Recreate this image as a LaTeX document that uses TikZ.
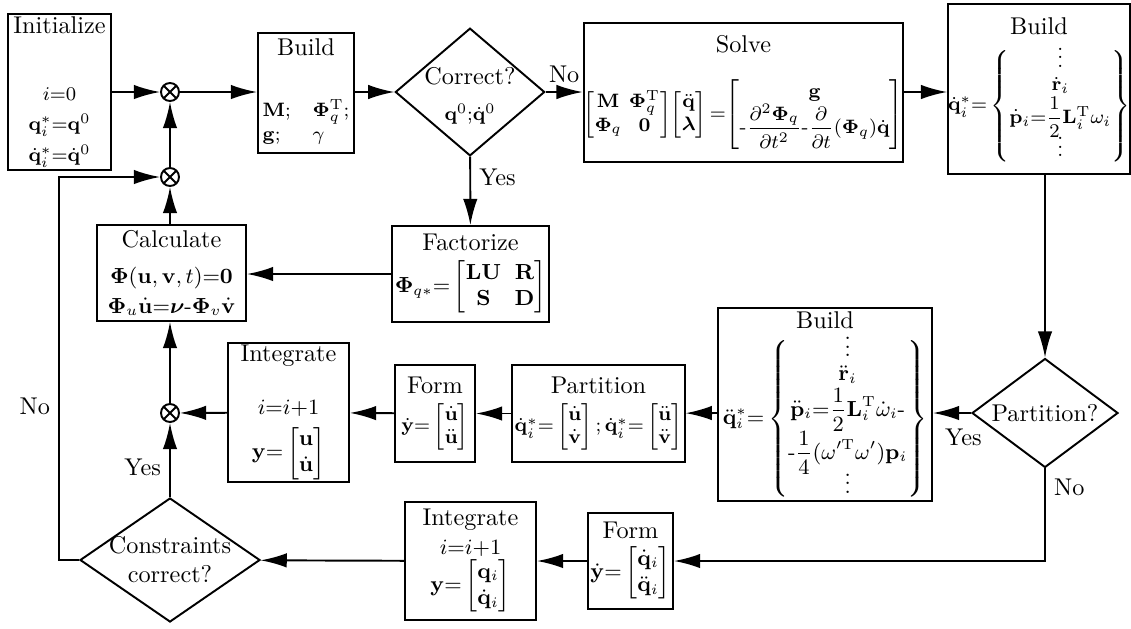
\documentclass[tikz,border=0pt]{standalone}
\usepackage{amsmath}
\usepackage{amssymb}
\usepackage{bm}
\usetikzlibrary{shapes.geometric, arrows.meta, positioning}

\newcommand{\pxu}{0.0145cm}
\newcommand{\tightvdots}{\vbox{\baselineskip3.5pt\lineskiplimit0pt\hbox{.}\hbox{.}\hbox{.}}}
\setlength{\arraycolsep}{1.5pt}

\begin{document}
\begin{tikzpicture}[x=0.0145cm, y=-0.0145cm, thick,
    block/.style={rectangle, draw, align=center, inner sep=1pt},
    decision/.style={diamond, draw, align=center, inner sep=0pt},
    sum/.style={circle, draw, inner sep=0pt, minimum size=18*\pxu,
      path picture={\draw (path picture bounding box.north west) -- (path picture bounding box.south east)
        (path picture bounding box.south west) -- (path picture bounding box.north east);}},
    arrow/.style={-{Latex[length=3.8mm,width=2.1mm]}}]

  \useasboundingbox (0,0) rectangle (1131,628);

  % top row
  \node[block, minimum width=103*\pxu, minimum height=140*\pxu] (init) at (59.5,92)
    {Initialize\\[16pt] {\footnotesize $i{=}0$}\\ {\footnotesize $\mathbf{q}_i^*{=}\mathbf{q}^0$}\\[1pt]
     {\footnotesize $\dot{\mathbf{q}}_i^*{=}\dot{\mathbf{q}}^0$}};
  \node[sum] (sum1) at (170,92) {};
  \node[block, minimum width=96*\pxu, minimum height=120*\pxu] (build1) at (306,93)
    {Build\\[18pt] {\footnotesize $\begin{array}{@{}l@{\hspace{9pt}}l@{}}\mathbf{M}; & \bm{\Phi}_q^{\mathrm{T}};\\
      \mathbf{g}; & \gamma\end{array}$}};
  \node[decision, aspect=1.17, inner ysep=-3pt, minimum width=148*\pxu, minimum height=127*\pxu] (correct) at (470,92)
    {\\[-2pt] Correct?\\[3pt] {\footnotesize $\mathbf{q}^0{;}\dot{\mathbf{q}}^0$}};
  \node[block, inner sep=0pt, minimum width=315*\pxu, minimum height=139*\pxu] (solve) at (743.5,92.5)
    {Solve\\[10pt] {\footnotesize $\begin{bmatrix}\mathbf{M} & \bm{\Phi}_q^{\mathrm{T}}\\ \bm{\Phi}_q & \mathbf{0}\end{bmatrix}\!
      \begin{bmatrix}\ddot{\mathbf{q}}\\ \bm{\lambda}\end{bmatrix}{=}\!
      \begin{bmatrix}\mathbf{g}\\ \text{-}\dfrac{\partial^2\bm{\Phi}_q}{\partial t^2}\text{-}\dfrac{\partial}{\partial t}(\bm{\Phi}_q)\dot{\mathbf{q}}\end{bmatrix}$}};
  \node[block, inner sep=0pt, minimum width=180*\pxu, minimum height=170*\pxu] (build2) at (1039,89)
    {\begin{tabular}{@{}c@{}}Build\\[2pt] {\fontsize{8.5}{10}\selectfont\renewcommand{\arraystretch}{0.95}\setlength{\arraycolsep}{0pt}$\dot{\mathbf{q}}_i^*{=}\left\{\begin{matrix}\tightvdots\\
      \dot{\mathbf{r}}_i\\ \dot{\mathbf{p}}_i{=}\dfrac{1}{2}\mathbf{L}_i^{\mathrm{T}}\omega_i\\ \tightvdots\end{matrix}\right\}$}\end{tabular}};

  % middle rows
  \node[sum] (sum2) at (170,177) {};
  \node[block, minimum width=149*\pxu, minimum height=96*\pxu] (calc) at (171.5,273)
    {Calculate\\[3pt] {\small $\bm{\Phi}(\mathbf{u},\mathbf{v},t){=}\mathbf{0}$}\\
     {\small $\bm{\Phi}_u\dot{\mathbf{u}}{=}\bm{\nu}\text{-}\bm{\Phi}_v\dot{\mathbf{v}}$}};
  \node[block, minimum width=145*\pxu, minimum height=96*\pxu] (factor) at (470.5,274)
    {Factorize\\[3pt] {\small $\bm{\Phi}_{q*}{=}\begin{bmatrix}\mathbf{LU} & \;\mathbf{R}\\ \mathbf{S} & \;\mathbf{D}\end{bmatrix}$}};

  \node[sum] (sum3) at (170,413) {};
  \node[block, minimum width=121*\pxu, minimum height=129*\pxu] (integ1) at (288.5,412.5)
    {Integrate\\[10pt] {\small $i{=}i{+}1$}\\[3pt] {\small $\mathbf{y}{=}\begin{bmatrix}\mathbf{u}\\ \dot{\mathbf{u}}\end{bmatrix}$}};
  \node[block, minimum width=80*\pxu, minimum height=97*\pxu] (form1) at (435,413.5)
    {Form\\[4pt] {\footnotesize $\dot{\mathbf{y}}{=}\begin{bmatrix}\dot{\mathbf{u}}\\ \ddot{\mathbf{u}}\end{bmatrix}$}};
  \node[block, minimum width=165*\pxu, minimum height=97*\pxu] (partition) at (598.5,413.5)
    {Partition\\[4pt] {\footnotesize $\dot{\mathbf{q}}_i^*{=}\begin{bmatrix}\dot{\mathbf{u}}\\ \dot{\mathbf{v}}\end{bmatrix}{;}\,
      \dot{\mathbf{q}}_i^*{=}\begin{bmatrix}\ddot{\mathbf{u}}\\ \ddot{\mathbf{v}}\end{bmatrix}$}};
  \node[block, inner sep=0pt, minimum width=214*\pxu, minimum height=191*\pxu] (build3) at (825,404.5)
    {\begin{tabular}{@{}c@{}}Build\\ {\small\renewcommand{\arraystretch}{0.9}\setlength{\arraycolsep}{0pt}$\ddot{\mathbf{q}}_i^*{=}\left\{\begin{matrix}\tightvdots\\
      \ddot{\mathbf{r}}_i\\ \ddot{\mathbf{p}}_i{=}\dfrac{1}{2}\mathbf{L}_i^{\mathrm{T}}\dot{\omega}_i\text{-}\\
      \text{-}\dfrac{1}{4}(\omega'^{\mathrm{T}}\omega')\mathbf{p}_i\\ \tightvdots\end{matrix}\right\}$}\end{tabular}};
  \node[decision, aspect=1.34, minimum width=146*\pxu, minimum height=109*\pxu] (partq) at (1045,413) {Partition?};

  % bottom row
  \node[decision, aspect=1.45, inner ysep=-6pt, minimum width=180*\pxu, minimum height=124*\pxu] (cons) at (170,560)
    {Constraints\\ correct?};
  \node[block, minimum width=131*\pxu, minimum height=118*\pxu] (integ2) at (470.5,561)
    {Integrate\\ {\small $i{=}i{+}1$}\\ {\small $\mathbf{y}{=}\begin{bmatrix}\mathbf{q}_i\\ \dot{\mathbf{q}}_i\end{bmatrix}$}};
  \node[block, minimum width=81*\pxu, minimum height=96*\pxu] (form2) at (630.5,561)
    {Form\\[2pt] {\small $\dot{\mathbf{y}}{=}\begin{bmatrix}\dot{\mathbf{q}}_i\\ \ddot{\mathbf{q}}_i\end{bmatrix}$}};

  \path[arrow]
    (init) edge (sum1)
    (sum1) edge (sum1 -| build1.west)
    (correct.west -| build1.east) edge (correct.west)
    (correct) edge node[above] {No} (correct.east -| solve.west)
    (correct.east -| solve.east) edge (correct.east -| build2.west)
    (correct) edge node[right, pos=0.3] {Yes} (factor)
    (factor) edge (factor -| calc.east)
    (sum2 |- calc.north) edge (sum2)
    (sum2) edge (sum1)
    (sum3) edge (sum3 |- calc.south)
    (integ1) edge (sum3)
    (form1) edge (integ1)
    (partition) edge (form1)
    (partq -| build3.west) edge (partition)
    (partq) edge node[below=3pt, pos=0.2] {Yes} (partq -| build3.east)
    (form2) edge (integ2)
    (integ2) edge (cons)
    (cons) edge node[left, pos=0.4] {Yes} (sum3);

  \draw[arrow] (partq.north |- build2.south) -- (partq.north);
  \draw[arrow] (partq.south) |- node[right, pos=0.1] {No} (form2.east);
  \draw[arrow] (cons.west) -- ++(-20,0) |- node[left, pos=0.2] {No} (sum2.west);
\end{tikzpicture}
\end{document}
